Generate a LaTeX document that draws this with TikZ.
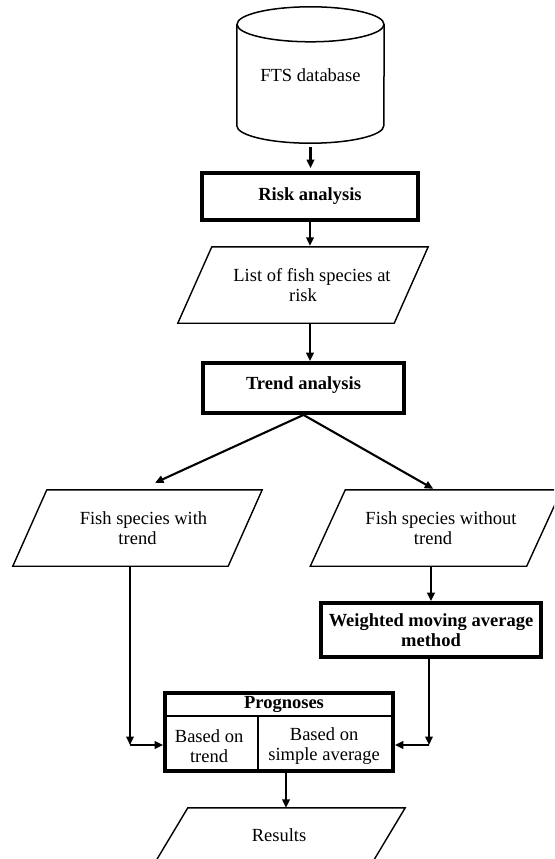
\documentclass[tikz,border=0pt]{standalone}
\usepackage{fontspec}
\setmainfont{Liberation Serif}
\usetikzlibrary{arrows.meta,calc}
\begin{document}
\begin{tikzpicture}[x=1pt,y=-1pt,
  every node/.style={font=\fontsize{18.5}{20}\selectfont, inner sep=0pt, align=center},
  thickbox/.style={draw, line width=3.8pt, rectangle, minimum width=#1},
  parabox/.style={rectangle, minimum width=#1},
  paraline/.style={draw, line width=1.4pt, line join=miter},
  thinline/.style={draw, line width=1.5pt},
  arr/.style={draw, line width=2.1pt, -{Triangle[length=8.5pt,width=7.5pt]}}
]
\path[use as bounding box] (0,0) rectangle (554,859);
\clip (0,0) rectangle (554,859);

% database cylinder
\node[rectangle, minimum width=147pt, minimum height=136pt] (db) at (310.5,75) {FTS database};
\draw[thinline] ($(db.north west)+(0,17.5)$) -- ($(db.south west)+(0,-17.5)$)
   arc[start angle=180, end angle=0, x radius=73.5, y radius=17.5]
   -- ($(db.north east)+(0,17.5)$);
\draw[thinline] ($(db.north)+(0,17.5)$) ellipse[x radius=73.5, y radius=17.5];

% boxes
\node[thickbox=216pt, minimum height=47pt] (risk) at (310,196.5) {\bfseries Risk analysis};
\node[parabox=216pt, minimum height=76pt] (list) at (303,285) {\hspace*{18pt}List of fish species at\\risk};
\node[thickbox=201pt, minimum height=50pt, text depth=9pt] (trend) at (303.5,388) {\bfseries Trend analysis};
\node[parabox=215pt, minimum height=76pt] (wt) at (137.5,528) {\hspace*{12pt}Fish species with\\trend};
\node[parabox=216pt, minimum height=76pt] (wo) at (436,528) {\hspace*{10pt}Fish species without\\\hspace*{-6pt}trend};
\node[thickbox=220pt, minimum height=54pt] (wma) at (431,630) {\bfseries Weighted moving average\\\bfseries method};
\node[thickbox=228pt, minimum height=78pt] (prog) at (279,732) {};
\node[parabox=217pt, minimum height=58pt] (res) at (279,837) {\raisebox{4pt}{Results}};

% parallelogram outlines
\newcommand\parashape[2]{\draw[paraline] ($(#1.north west)+(#2,0)$) -- ($(#1.north east)+(#2,0)$) -- ($(#1.south east)-(#2,0)$) -- ($(#1.south west)-(#2,0)$) -- cycle;}
\parashape{list}{17}
\parashape{wt}{17}
\parashape{wo}{17.5}
\parashape{res}{17.5}

% prognoses inner structure
\draw[thinline] ($(prog.north west)+(0,25)$) -- ($(prog.north east)+(0,25)$);
\draw[thinline] ($(prog.south west)+(95,0)$) -- ($(prog.north west)+(95,25)$);
\node (ph) at ($(prog.north)+(5,13)$) {\bfseries Prognoses};
\node (pl) at ($(prog.south west)+(46,-26.5)$) {Based on\\trend};
\node (pr) at ($(prog.south west)+(161,-26.5)$) {Based on\\simple average};

% connectors
\draw[arr, shorten <=4pt, shorten >=3pt] (db.south) -- (db.south |- risk.north);
\draw[arr, shorten >=1pt] (risk.south) -- (risk.south |- list.north);
\draw[arr] (risk.south |- list.south) -- (risk.south |- trend.north);
\draw[arr] (trend.south) -- ($(wt.north)+(17.5,-7)$);
\draw[arr, shorten >=2pt] (trend.south) -- ($(wo.north)+(-1,0)$);
\draw[arr] (wma.north |- wo.south) -- (wma.north);
\coordinate (cl) at (130,745);
\coordinate (cr) at (429,745);
\draw[arr] (cl |- wt.south) -- (cl);
\draw[arr] (cl) -- (cl -| prog.west);
\draw[arr] (cr |- wma.south) -- (cr);
\draw[arr] (cr) -- (cr -| prog.east);
\draw[arr] ([xshift=7pt]prog.south) -- ([xshift=7pt]prog.south |- res.north);
\end{tikzpicture}
\end{document}
